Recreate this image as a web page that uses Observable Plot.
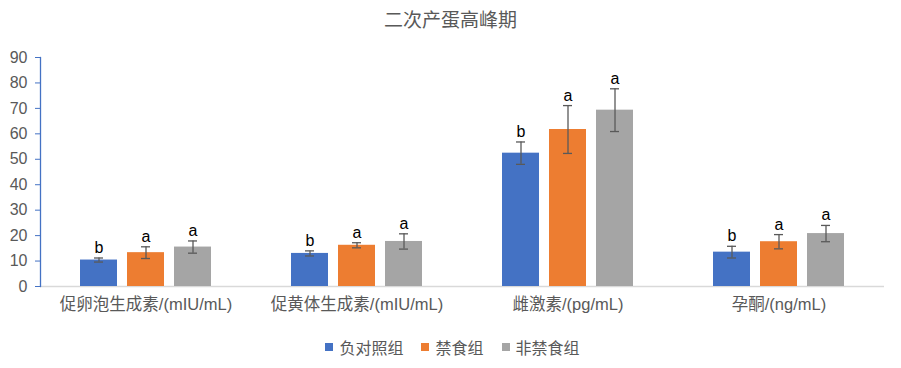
<!DOCTYPE html>
<html>
<head>
<meta charset="utf-8">
<script src="https://cdn.jsdelivr.net/npm/d3@7"></script>
<script src="https://cdn.jsdelivr.net/npm/@observablehq/plot@0.6"></script>
<style>
  html, body { margin: 0; padding: 0; background: #fff; }
  body { width: 901px; height: 368px; overflow: hidden; font-family: "Liberation Sans", "Noto Sans CJK SC", sans-serif; }
  #title { height: 40px; line-height: 38px; text-align: center; font-size: 19px; color: #595959; font-family: "Noto Sans CJK SC", sans-serif; }
  #legend { display: flex; justify-content: center; align-items: center; height: 43px; padding-left: 4px; font-size: 16px; color: #595959; font-family: "Noto Sans CJK SC", sans-serif; }
  .item { display: flex; align-items: center; margin: 0 9px; }
  .sw { width: 8px; height: 8px; margin-right: 6px; }
</style>
</head>
<body>
<div id="title"></div>
<div id="chart"></div>
<div id="legend"></div>
<script>
const title = "二次产蛋高峰期";
const groups = ["促卵泡生成素/(mIU/mL)", "促黄体生成素/(mIU/mL)", "雌激素/(pg/mL)", "孕酮/(ng/mL)"];
const series = ["负对照组", "禁食组", "非禁食组"];
const colors = ["#4472C4", "#ED7D31", "#A5A5A5"];
const means = {
  "负对照组": [10.4, 13.0, 52.4, 13.5],
  "禁食组":   [13.3, 16.2, 61.7, 17.6],
  "非禁食组": [15.5, 17.7, 69.3, 20.8]
};
const errors = {
  "负对照组": [0.8, 1.0, 4.4, 2.3],
  "禁食组":   [2.3, 1.0, 9.4, 2.8],
  "非禁食组": [2.4, 3.0, 8.4, 3.2]
};
const letters = {
  "负对照组": ["b", "b", "b", "b"],
  "禁食组":   ["a", "a", "a", "a"],
  "非禁食组": ["a", "a", "a", "a"]
};
const yTicks = [0, 10, 20, 30, 40, 50, 60, 70, 80, 90];

const data = [];
groups.forEach((g, i) => series.forEach(s => data.push({group: g, series: s, v: means[s][i], e: errors[s][i], l: letters[s][i]})));

document.getElementById("title").textContent = title;

const chart = Plot.plot({
  width: 901,
  height: 285,
  marginLeft: 39,
  marginRight: 17,
  marginTop: 17,
  marginBottom: 39,
  style: {fontFamily: "'Liberation Sans', 'Noto Sans CJK SC', sans-serif", background: "#fff"},
  fx: {domain: groups, padding: 0, axis: null, label: null},
  x: {domain: series, paddingInner: 0.213, paddingOuter: 0.85, axis: null, label: null},
  y: {domain: [0, 90], axis: null, label: null},
  color: {domain: series, range: colors},
  marks: [
    Plot.ruleY([0], {stroke: "#D9D9D9", strokeWidth: 1.3}),
    Plot.barY(data, {fx: "group", x: "series", y: "v", fill: "series"}),
    Plot.ruleX(data, {fx: "group", x: "series", y1: d => d.v - d.e, y2: d => d.v + d.e, stroke: "#595959", strokeWidth: 1.3}),
    Plot.tickY(data, {fx: "group", x: "series", y: d => d.v + d.e, stroke: "#595959", strokeWidth: 1.3, insetLeft: 14, insetRight: 14}),
    Plot.tickY(data, {fx: "group", x: "series", y: d => d.v - d.e, stroke: "#595959", strokeWidth: 1.3, insetLeft: 14, insetRight: 14}),
    Plot.text(data, {fx: "group", x: "series", y: d => d.v + d.e, text: "l", dy: -5, lineAnchor: "bottom", fontSize: 16, fill: "#000"}),
    Plot.frame({anchor: "left", stroke: "#4472C4", strokeWidth: 1.3, facetAnchor: "left"}),
    Plot.axisY({ticks: yTicks, tickSize: 5, tickPadding: 8, stroke: "#4472C4", fill: "#595959", fontSize: 16, label: null}),
    Plot.axisFx({anchor: "bottom", tickSize: 0, tickPadding: 12, fontSize: 16.5, fill: "#595959", label: null})
  ]
});
document.getElementById("chart").appendChild(chart);

const legend = document.getElementById("legend");
series.forEach((s, i) => {
  const item = document.createElement("div");
  item.className = "item";
  const sw = document.createElement("span");
  sw.className = "sw";
  sw.style.background = colors[i];
  const t = document.createElement("span");
  t.textContent = s;
  item.appendChild(sw);
  item.appendChild(t);
  legend.appendChild(item);
});
</script>
</body>
</html>
